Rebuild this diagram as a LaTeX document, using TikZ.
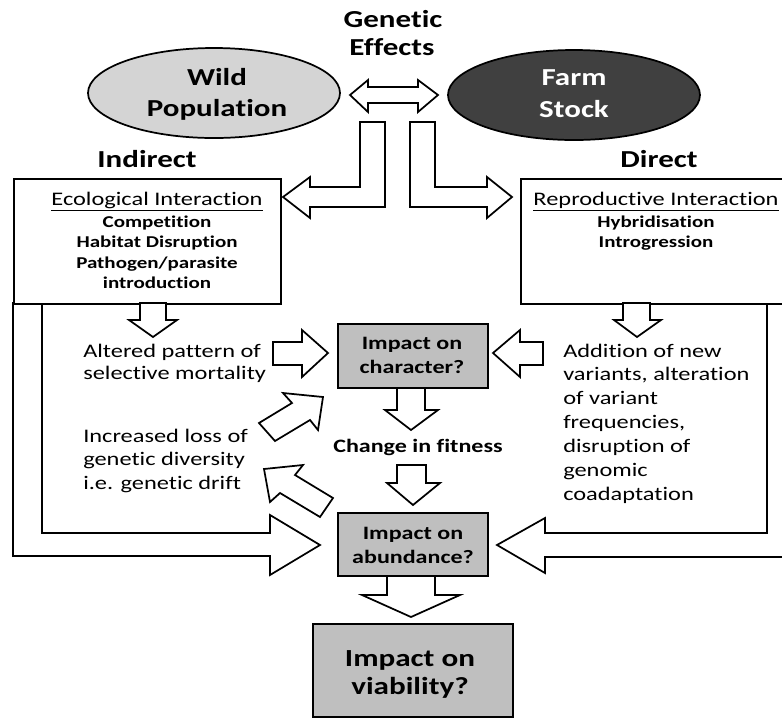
\documentclass[tikz,border=0pt]{standalone}
\usepackage{fontspec}
\setmainfont{Carlito}[FakeStretch=1.27, Ligatures={NoCommon,NoRare,NoDiscretionary}]
\usetikzlibrary{shapes.geometric}
\definecolor{wildgray}{HTML}{D4D4D4}
\definecolor{farmgray}{HTML}{404040}
\definecolor{boxgray}{HTML}{BFBFBF}
\begin{document}
\begin{tikzpicture}[x=0.75pt,y=-0.75pt,
  ln/.style={line width=1.3pt, line join=miter},
  barrow/.style={ln, draw=black, fill=white},
  plainbox/.style={ln, draw=black, fill=white, rectangle, inner sep=0pt, anchor=north west},
  graybox/.style={ln, draw=black, fill=boxgray, rectangle, inner sep=0pt, anchor=north west},
  oval/.style={ln, draw=black, ellipse, inner sep=0pt, minimum width=189pt, minimum height=67.5pt},
  tx/.style={inner sep=0pt, anchor=base},
  txl/.style={inner sep=0pt, anchor=base west},
  big/.style={font=\fontsize{18.3pt}{22pt}\selectfont\bfseries},
  small/.style={font=\fontsize{12.4pt}{15pt}\selectfont\bfseries},
  body/.style={font=\fontsize{14.4pt}{17pt}\selectfont},
  mid/.style={font=\fontsize{14.2pt}{17pt}\selectfont\bfseries},
  vbig/.style={font=\fontsize{18.4pt}{22pt}\selectfont\bfseries}]
\useasboundingbox (0,0) rectangle (782,719);
\clip (0,0) rectangle (782,719);
\fill[white] (0,0) rectangle (782,719);

% ellipses
\node[oval, fill=wildgray] (wild) at (214,93) {};
\node[oval, fill=farmgray] (farm) at (574,95) {};
\node[tx, big] (wild1) at (217,85) {Wild};
\node[tx, big] (wild2) at (217,116) {Population};
\node[tx, big, text=white] (farm1) at (574,85) {Farm};
\node[tx, big, text=white] (farm2) at (574,117) {Stock};
\node[tx, big] (gen1) at (393,27) {Genetic};
\node[tx, big] (gen2) at (392,55) {Effects};
\node[tx, big] (indirect) at (147,167) {Indirect};
\node[tx, big] (direct) at (659,167) {Direct};

% double arrow between populations
\draw[barrow] (350,95) -- (368,80) -- (368,87) -- (418,87) -- (418,80) -- (438,95)
  -- (418,112) -- (418,103) -- (368,103) -- (368,112) -- cycle;
% bent arrows
\draw[barrow] (360,122) -- (385,122) -- (385,207) -- (310,207) -- (310,218) -- (283,197)
  -- (310,177) -- (310,187) -- (360,187) -- cycle;
\draw[barrow] (410,122) -- (435,122) -- (435,187) -- (487,187) -- (487,177) -- (512,197)
  -- (487,218) -- (487,207) -- (410,207) -- cycle;

% long arrows to abundance
\draw[barrow] (13,303) -- (13,556) -- (270,556) -- (270,575) -- (320,545) -- (270,515)
  -- (270,533) -- (42,533) -- (42,303) -- cycle;
\draw[barrow] (767,303) -- (767,533) -- (545,533) -- (545,518) -- (497,545) -- (545,573)
  -- (545,557) -- (800,557) -- (800,303) -- cycle;

% boxes
\node[plainbox, minimum width=200.25pt, minimum height=93.75pt] (eco) at (13,178) {};
\node[plainbox, minimum width=210pt, minimum height=93.75pt] (repro) at (520,178) {};
\node[tx, body] (ecot) at (157,205) {\underline{Ecological Interaction}};
\node[tx, small] (eco1) at (157,227) {Competition};
\node[tx, small] (eco2) at (157,247) {Habitat Disruption};
\node[tx, small] (eco3) at (157,268) {Pathogen/parasite};
\node[tx, small] (eco4) at (157,288) {introduction};
\node[tx, body] (reprot) at (656,205) {\underline{Reproductive Interaction}};
\node[tx, small] (repro1) at (656,227) {Hybridisation};
\node[tx, small] (repro2) at (656,247) {Introgression};

% small arrows
\draw[barrow] (140,303) -- (140,320) -- (129,320) -- (153,337) -- (177,320) -- (166,320) -- (166,303) -- cycle;
\draw[barrow] (623,303) -- (623,320) -- (614,320) -- (637,337) -- (661,320) -- (650,320) -- (650,303) -- cycle;
\draw[barrow] (273,342) -- (302,342) -- (302,330) -- (328,353) -- (302,377) -- (302,365) -- (273,365) -- cycle;
\draw[barrow] (543,342) -- (520,342) -- (520,330) -- (493,353) -- (520,377) -- (520,365) -- (543,365) -- cycle;
\draw[barrow] (259,423) -- (292,403) -- (283,393) -- (323,397) -- (318,430) -- (310,420) -- (275,441) -- cycle;
\draw[barrow] (264,469) -- (303,465) -- (295,475) -- (333,498) -- (320,517) -- (280,493) -- (270,502) -- cycle;
\draw[barrow] (397,387) -- (397,410) -- (385,410) -- (411,430) -- (438,410) -- (425,410) -- (425,387) -- cycle;
\draw[barrow] (397,465) -- (397,483) -- (387,483) -- (413,505) -- (440,483) -- (426,483) -- (426,465) -- cycle;
\draw[barrow] (387,575) -- (387,595) -- (362,595) -- (411,617) -- (460,595) -- (435,595) -- (435,575) -- cycle;

% side texts
\node[txl, body] (alt1) at (83,357) {Altered pattern of};
\node[txl, body] (alt2) at (83,379) {selective mortality};
\node[txl, body] (inc1) at (83,442) {Increased loss of};
\node[txl, body] (inc2) at (83,465.5) {genetic diversity};
\node[txl, body] (inc3) at (83,489) {i.e. genetic drift};
\node[txl, body] (add1) at (563,357) {Addition of new};
\node[txl, body] (add2) at (563,380.8) {variants, alteration};
\node[txl, body] (add3) at (563,404.6) {of variant};
\node[txl, body] (add4) at (563,428.4) {frequencies,};
\node[txl, body] (add5) at (563,452.2) {disruption of};
\node[txl, body] (add6) at (563,476) {genomic};
\node[txl, body] (add7) at (563,500) {coadaptation};

% central boxes
\node[graybox, minimum width=112.5pt, minimum height=48pt] (char) at (337,323) {};
\node[tx, mid] (char1) at (412,349) {Impact on};
\node[tx, mid] (char2) at (412,373) {character?};
\node[tx, mid] (fit) at (418,452) {Change in fitness};
\node[graybox, minimum width=112.5pt, minimum height=47.25pt] (abund) at (337,512) {};
\node[tx, mid] (ab1) at (413,539) {Impact on};
\node[tx, mid] (ab2) at (413,563) {abundance?};
\node[graybox, minimum width=150pt, minimum height=69.75pt] (viab) at (312,623) {};
\node[tx, vbig] (vi1) at (410,666) {Impact on};
\node[tx, vbig] (vi2) at (410,694) {viability?};
\end{tikzpicture}
\end{document}
